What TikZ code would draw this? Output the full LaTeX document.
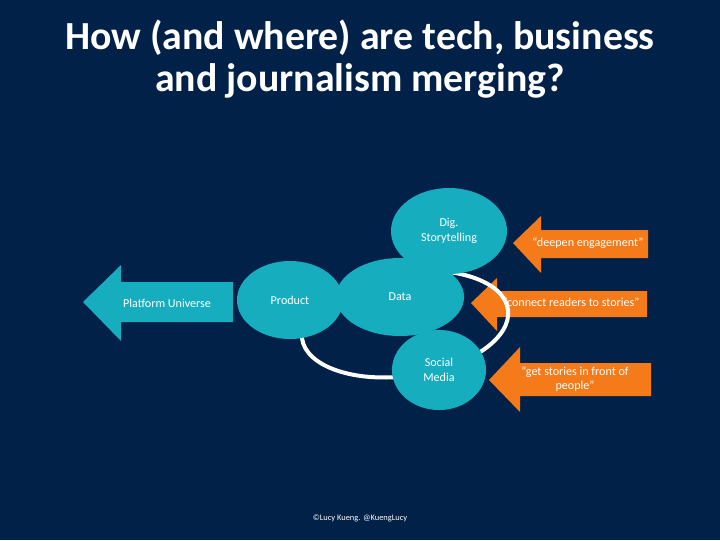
\documentclass[tikz,border=0pt]{standalone}
\usepackage{fontspec}
\setmainfont{Carlito}
\usetikzlibrary{shapes.geometric}
\definecolor{navy}{RGB}{1,33,72}
\definecolor{bubteal}{RGB}{22,174,190}
\definecolor{arrorange}{RGB}{244,122,26}

\begin{document}
\begin{tikzpicture}[
    x=0.025cm, y=-0.025cm,
    font=\fontsize{8.6}{10.2}\selectfont,
    bub/.style={ellipse, fill=bubteal, text=white, inner sep=0pt, align=center},
    lbl/.style={text=white, align=center},
    ring/.style={draw=white, line width=1mm},
    ttl/.style={text=white, align=center, font=\fontsize{28.3}{30}\selectfont\bfseries},
  ]
  \fill[navy] (0,0) rectangle (720,540);
  \useasboundingbox (0,0) rectangle (720,540);

  % --- title ---
  \node[ttl] (title) at (360,59) {How (and where) are tech, business\\and journalism merging?};

  % --- arrows: platform (left) and the three quotes (right) ---
  \fill[bubteal] (83,302) -- (121,265) -- (121,282) -- (233,282) -- (233,322)
    -- (121,322) -- (121,341) -- cycle;
  \node[lbl] (plat) at (167,303) {Platform Universe};

  \fill[arrorange] (513,243) -- (541,216) -- (541,230) -- (648,230) -- (648,258)
    -- (541,258) -- (541,273) -- cycle;
  \node[lbl] (deep) at (588,243) {“deepen engagement”};
  \fill[arrorange] (471,303) -- (497,278) -- (497,291) -- (647,291) -- (647,317)
    -- (497,317) -- (497,331) -- cycle;
  \node[lbl] (conn) at (571,302) {“connect readers to stories”};
  \fill[arrorange] (489,380) -- (520,347) -- (520,363) -- (651,363) -- (651,396)
    -- (520,396) -- (520,412) -- cycle;
  \node[lbl] (front) at (575,379) {“get stories in front of\\people”};

  % --- ring behind the bubbles ---
  \draw[ring, rotate around={8:(405,324)}] (405,324) ellipse [x radius=104, y radius=52];

  % --- bubbles ---
  \node[bub, minimum width=2.9cm, minimum height=2.15cm] (dig) at (449,231) {Dig.\\Storytelling};
  \node[bub, minimum width=3.2cm, minimum height=1.95cm] (data) at (400,297) {Data};
  \node[bub, minimum width=2.65cm, minimum height=1.95cm] (prod) at (290,300) {Product};
  \node[bub, minimum width=2.35cm, minimum height=2cm] (soc) at (439,370) {Social\\Media};

  \node[lbl, font=\fontsize{6}{7}\selectfont] (copy) at (360,518) {©Lucy Kueng. @KuengLucy};
\end{tikzpicture}
\end{document}
